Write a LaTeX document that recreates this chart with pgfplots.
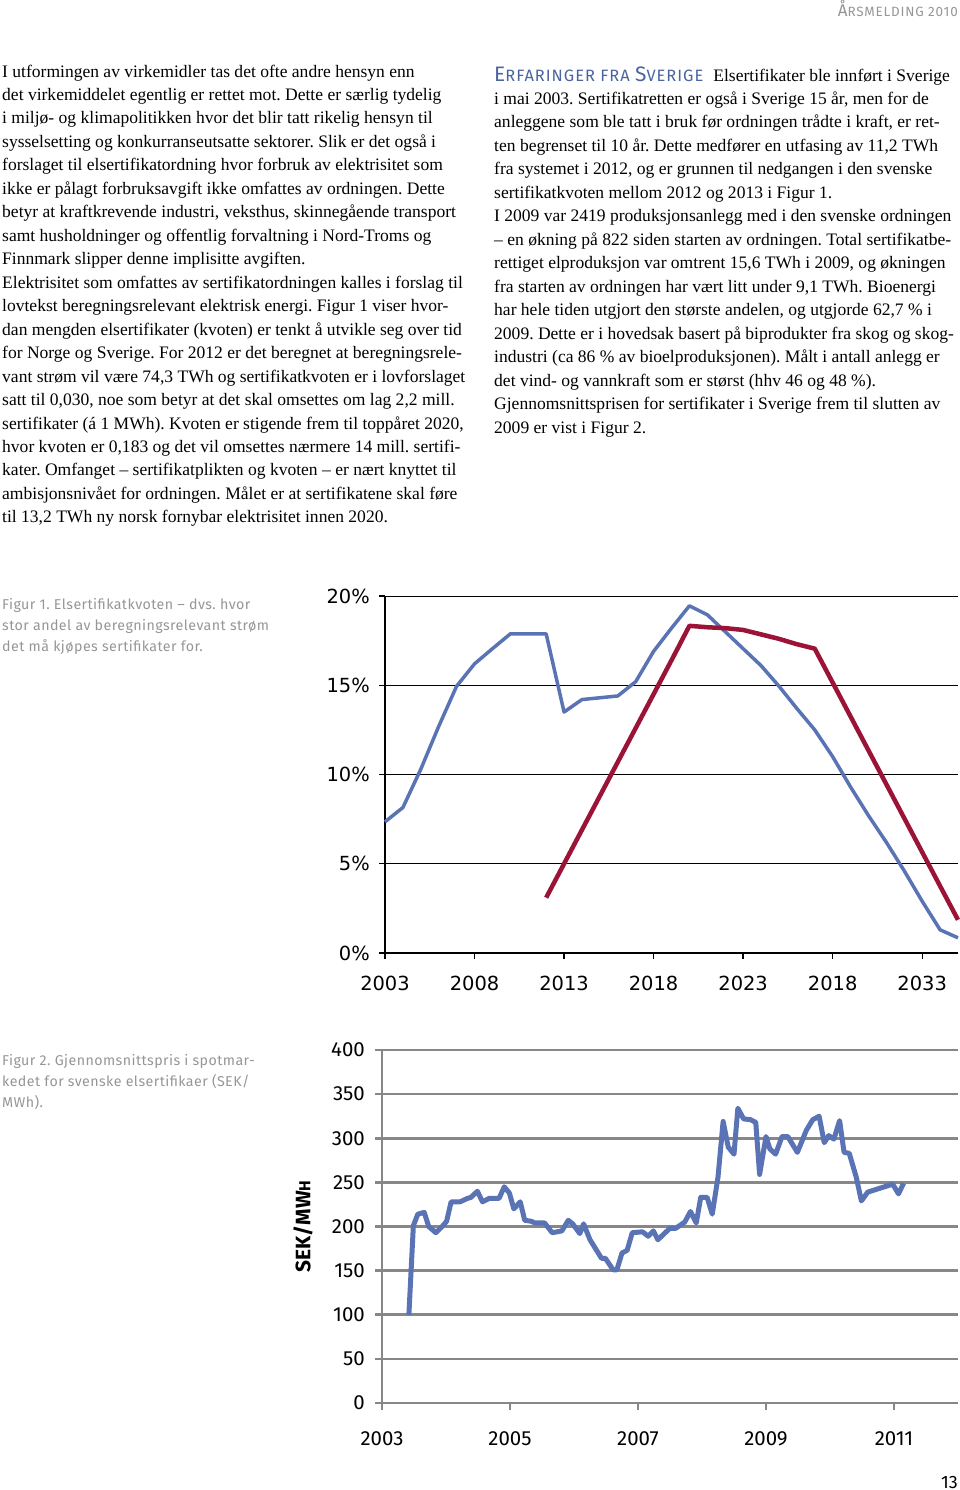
\documentclass[border=0pt]{standalone}
\usepackage{pgfplots}
\pgfplotsset{compat=1.18}
\usepackage{fontspec}
\setmainfont{Liberation Serif}
\newfontfamily\tickfont{DejaVu Sans}
\newfontfamily\metafont{Fira Sans}
\newfontfamily\capfont[LetterSpace=3]{Fira Sans}
\newfontfamily\headfont[LetterSpace=6]{Fira Sans}
\definecolor{blueline}{RGB}{90,115,180}
\definecolor{redline}{RGB}{155,20,55}
\definecolor{capgray}{RGB}{150,150,150}
\definecolor{headblue}{RGB}{75,100,160}
\definecolor{gridgray}{RGB}{135,135,135}

\pgfplotstableread{
year val
2003 7.35
2004 8.15
2005 10.3
2006 12.7
2007 14.95
2008 16.2
2009 17.05
2010 17.88
2011 17.88
2012 17.88
2013 13.5
2014 14.2
2015 14.3
2016 14.4
2017 15.2
2018 16.9
2019 18.2
2020 19.45
2021 18.95
2022 18.0
2023 17.05
2024 16.1
2025 14.95
2026 13.7
2027 12.5
2028 11.0
2029 9.3
2030 7.7
2031 6.2
2032 4.6
2033 2.9
2034 1.3
2035 0.85
}\sverige

\pgfplotstableread{
year val
2012 3.1
2013 5.0
2014 6.9
2015 8.8
2016 10.7
2017 12.6
2018 14.5
2019 16.4
2020 18.33
2021 18.25
2022 18.2
2023 18.1
2024 17.85
2025 17.6
2026 17.3
2027 17.05
2028 15.15
2029 13.25
2030 11.35
2031 9.45
2032 7.55
2033 5.65
2034 3.75
2035 1.86
}\norge

\pgfplotstableread{
year val
2003.42 100
2003.49 201
2003.56 214
2003.66 216
2003.73 200
2003.84 193
2003.94 200
2004.01 206
2004.08 228
2004.22 228
2004.34 232
2004.39 233
2004.49 240
2004.57 228
2004.68 232
2004.83 232
2004.91 245
2004.99 238
2005.06 220
2005.16 228
2005.23 207
2005.33 206
2005.39 204
2005.54 204
2005.66 193
2005.81 195
2005.91 207
2005.98 203
2006.09 192
2006.15 203
2006.25 185
2006.43 164
2006.49 164
2006.61 151
2006.67 151
2006.75 170
2006.83 173
2006.91 193
2007.07 194
2007.16 189
2007.24 195
2007.31 185
2007.44 194
2007.50 198
2007.59 198
2007.73 205
2007.82 217
2007.91 204
2007.98 233
2008.08 233
2008.16 214
2008.25 256
2008.33 319
2008.41 290
2008.50 282
2008.56 334
2008.65 322
2008.76 321
2008.84 318
2008.90 259
2009.00 302
2009.06 288
2009.15 282
2009.25 302
2009.34 302
2009.49 284
2009.63 309
2009.73 321
2009.83 325
2009.91 295
2009.98 303
2010.06 299
2010.15 320
2010.22 284
2010.30 283
2010.41 256
2010.49 229
2010.59 239
2010.98 248
2011.07 237
2011.15 249
}\pris

\newcommand\Lline[2]{\node[body] at (2,{-77-23.47*(#1)}) {#2};}
\newcommand\Rline[2]{\node[body] at (494,{-81-23.47*(#1)}) {#2};}

\begin{document}
\frenchspacing
\begin{tikzpicture}
\useasboundingbox (0bp,-1490bp) rectangle (960bp,0bp);
\begin{scope}[x=1bp,y=1bp,
  body/.style={anchor=base west, inner sep=0pt, font=\frenchspacing\fontsize{17.6}{20}\selectfont},
  capt/.style={anchor=base west, inner sep=0pt, text=capgray, font=\capfont\fontsize{14.3}{16}\selectfont}]

% header
\node[anchor=base east, inner sep=0pt, text=capgray] at (958,-16)
  {\headfont{\fontsize{17}{17}\selectfont Å}{\fontsize{13.5}{13.5}\selectfont RSMELDING 2010}};

% left column
\Lline{0}{I utformingen av virkemidler tas det ofte andre hensyn enn}
\Lline{1}{det virkemiddelet egentlig er rettet mot. Dette er særlig tydelig}
\Lline{2}{i miljø- og klimapolitikken hvor det blir tatt rikelig hensyn til}
\Lline{3}{sysselsetting og konkurranseutsatte sektorer. Slik er det også i}
\Lline{4}{forslaget til elsertifikatordning hvor forbruk av elektrisitet som}
\Lline{5}{ikke er pålagt forbruksavgift ikke omfattes av ordningen. Dette}
\Lline{6}{betyr at kraftkrevende industri, veksthus, skinnegående transport}
\Lline{7}{samt husholdninger og offentlig forvaltning i Nord-Troms og}
\Lline{8}{Finnmark slipper denne implisitte avgiften.}
\Lline{9}{Elektrisitet som omfattes av sertifikatordningen kalles i forslag til}
\Lline{10}{lovtekst beregningsrelevant elektrisk energi. Figur 1 viser hvor-}
\Lline{11}{dan mengden elsertifikater (kvoten) er tenkt å utvikle seg over tid}
\Lline{12}{for Norge og Sverige. For 2012 er det beregnet at beregningsrele-}
\Lline{13}{vant strøm vil være 74,3 TWh og sertifikatkvoten er i lovforslaget}
\Lline{14}{satt til 0,030, noe som betyr at det skal omsettes om lag 2,2 mill.}
\Lline{15}{sertifikater (á 1 MWh). Kvoten er stigende frem til toppåret 2020,}
\Lline{16}{hvor kvoten er 0,183 og det vil omsettes nærmere 14 mill. sertifi-}
\Lline{17}{kater. Omfanget – sertifikatplikten og kvoten – er nært knyttet til}
\Lline{18}{ambisjonsnivået for ordningen. Målet er at sertifikatene skal føre}
\Lline{19}{til 13,2 TWh ny norsk fornybar elektrisitet innen 2020.}

% right column
\Rline{0}{{\headfont\color{headblue}{\fontsize{21}{21}\selectfont E}{\fontsize{16.5}{16.5}\selectfont RFARINGER FRA }{\fontsize{21}{21}\selectfont S}{\fontsize{16.5}{16.5}\selectfont VERIGE}}\hspace{10bp}Elsertifikater ble innført i Sverige}
\Rline{1}{i mai 2003. Sertifikatretten er også i Sverige 15 år, men for de}
\Rline{2}{anleggene som ble tatt i bruk før ordningen trådte i kraft, er ret-}
\Rline{3}{ten begrenset til 10 år. Dette medfører en utfasing av 11,2 TWh}
\Rline{4}{fra systemet i 2012, og er grunnen til nedgangen i den svenske}
\Rline{5}{sertifikatkvoten mellom 2012 og 2013 i Figur 1.}
\Rline{6}{I 2009 var 2419 produksjonsanlegg med i den svenske ordningen}
\Rline{7}{– en økning på 822 siden starten av ordningen. Total sertifikatbe-}
\Rline{8}{rettiget elproduksjon var omtrent 15,6 TWh i 2009, og økningen}
\Rline{9}{fra starten av ordningen har vært litt under 9,1 TWh. Bioenergi}
\Rline{10}{har hele tiden utgjort den største andelen, og utgjorde 62,7 \% i}
\Rline{11}{2009. Dette er i hovedsak basert på biprodukter fra skog og skog-}
\Rline{12}{industri (ca 86 \% av bioelproduksjonen). Målt i antall anlegg er}
\Rline{13}{det vind- og vannkraft som er størst (hhv 46 og 48 \%).}
\Rline{14}{Gjennomsnittsprisen for sertifikater i Sverige frem til slutten av}
\Rline{15}{2009 er vist i Figur 2.}

% captions
\node[capt] at (2,-609) {Figur 1. Elsertifikatkvoten – dvs. hvor};
\node[capt] at (2,-630) {stor andel av beregningsrelevant strøm};
\node[capt] at (2,-651) {det må kjøpes sertifikater for.};
\node[capt] at (2,-1065) {Figur 2. Gjennomsnittspris i spotmar-};
\node[capt] at (2,-1086) {kedet for svenske elsertifikaer (SEK/};
\node[capt] at (2,-1107) {MWh).};

\node[anchor=base east, inner sep=0pt, font=\metafont\fontsize{18}{18}\selectfont] at (958,-1488) {13};
\end{scope}

% Figure 1
\begin{axis}[
  at={(385bp,-953bp)}, anchor=south west, scale only axis,
  width=573bp, height=357bp,
  xmin=2003, xmax=2035, ymin=0, ymax=20,
  axis x line=bottom, axis y line=left,
  axis line style={-, black, line width=1.3bp},
  xtick={2003,2008,2013,2018,2023,2028,2033},
  xticklabels={2003,2008,2013,2018,2023,2018,2033},
  ytick={0,5,10,15,20},
  yticklabels={0\%,5\%,10\%,15\%,20\%},
  ymajorgrids, grid style={black, line width=0.9bp},
  tick align=outside, major tick length=6bp,
  tick style={black, line width=1.3bp},
  ticklabel style={font=\tickfont\fontsize{19.5}{21}\selectfont, inner sep=0pt},
  yticklabel style={xshift=-9bp},
  xticklabel style={yshift=-17bp},
  clip=false,
]
\addplot[blueline, line width=3.5bp, line join=round] table[x=year,y=val] {\sverige};
\addplot[redline, line width=4.5bp, line join=round] table[x=year,y=val] {\norge};
\end{axis}

% Figure 2
\begin{axis}[
  at={(382bp,-1403bp)}, anchor=south west, scale only axis,
  width=576bp, height=353bp,
  xmin=2003, xmax=2012, ymin=0, ymax=400,
  axis x line=bottom, axis y line=left,
  axis line style={-, gridgray, line width=2.6bp},
  xtick={2003,2005,2007,2009,2011},
  xticklabels={2003,2005,2007,2009,2011},
  ytick={0,50,100,150,200,250,300,350,400},
  yticklabels={0,50,100,150,200,250,300,350,400},
  ymajorgrids, grid style={gridgray, line width=2.6bp},
  tick align=outside, major tick length=7bp,
  tick style={gridgray, line width=2.6bp},
  ticklabel style={font=\metafont\fontsize{20.5}{22}\selectfont, inner sep=0pt},
  yticklabel style={xshift=-10bp},
  xticklabel style={yshift=-21bp},
  ylabel={SEK/MW{\fontsize{16}{16}\selectfont H}},
  ylabel style={font=\metafont\bfseries\fontsize{21}{22}\selectfont, at={(axis description cs:-0.137,0.5)}, anchor=center, inner sep=0pt},
  clip=false,
]
\addplot[blueline, line width=5bp, line join=round] table[x=year,y=val] {\pris};
\end{axis}
\end{tikzpicture}
\end{document}
